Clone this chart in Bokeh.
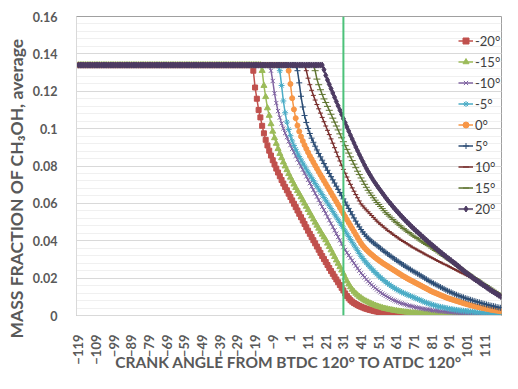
import math
from bokeh.plotting import figure
from bokeh.models import (Range1d, FixedTicker, SingleIntervalTicker, NumeralTickFormatter,
                          Span, Legend, LegendItem, Title)
from bokeh.embed import file_html
from bokeh.resources import INLINE

# ---------------- data ----------------
angles = list(range(-119, 121))          # crank angle categories, -119 .. 120
plateau = 0.134                          # average CH3OH mass fraction before injection effect
series_labels = ["-20°", "-15°", "-10°", "-5°", "0°", "5°", "10°", "15°", "20°"]
series_starts = [-20, -15, -10, -5, 0, 5, 10, 15, 20]   # first angle of decay

decay_m20 = [  # -20 .. 120
    0.131, 0.122, 0.116, 0.110, 0.106, 0.1015, 0.0975, 0.0940, 0.0910, 0.0882,
    0.0856, 0.0831, 0.0808, 0.0786, 0.0765, 0.0745, 0.0725, 0.0706, 0.0688, 0.0670,
    0.0652, 0.0634, 0.0616, 0.0598, 0.0580, 0.0562, 0.0544, 0.0526, 0.0508, 0.0490,
    0.0472, 0.0454, 0.0437, 0.0420, 0.0403, 0.0386, 0.0369, 0.0352, 0.0335, 0.0318,
    0.0302, 0.0286, 0.0270, 0.0254, 0.0238, 0.0223, 0.0208, 0.0193, 0.0178, 0.0163,
    0.0148, 0.0134, 0.0118, 0.0104, 0.0092, 0.0082, 0.0074, 0.0067, 0.0061, 0.0056,
    0.0051, 0.0047, 0.0043, 0.0039, 0.0036, 0.0033, 0.0030, 0.0028, 0.0025, 0.0023,
    0.0021, 0.0019, 0.0017, 0.0016, 0.0015, 0.0013, 0.0012, 0.0011, 0.0010, 0.0010,
    0.0009, 0.0008, 0.0008, 0.0007, 0.0007, 0.0006, 0.0006, 0.0005, 0.0005, 0.0005,
    0.0004, 0.0004, 0.0004, 0.0003, 0.0003, 0.0003, 0.0003, 0.0003, 0.0002, 0.0002,
    0.0002, 0.0002, 0.0002, 0.0002, 0.0002, 0.0001, 0.0001, 0.0001, 0.0001, 0.0001,
    0.0001, 0.0001, 0.0001, 0.0001, 0.0001, 0.0001, 0.0001, 0.0001, 0.0001, 0.0001,
    0.0001, 0.0001, 0.0001, 0.0001, 0.0001, 0.0, 0.0, 0.0, 0.0, 0.0,
    0.0, 0.0, 0.0, 0.0, 0.0, 0.0, 0.0, 0.0, 0.0, 0.0,
    0.0,
]
decay_m15 = [  # -15 .. 120
    0.131, 0.123, 0.117, 0.111, 0.107, 0.1025, 0.0985, 0.0950, 0.0920, 0.0892,
    0.0866, 0.0843, 0.0820, 0.0799, 0.0779, 0.0758, 0.0739, 0.0720, 0.0702, 0.0684,
    0.0667, 0.0651, 0.0634, 0.0617, 0.0600, 0.0583, 0.0566, 0.0549, 0.0532, 0.0515,
    0.0498, 0.0482, 0.0466, 0.0450, 0.0434, 0.0419, 0.0404, 0.0386, 0.0368, 0.0350,
    0.0332, 0.0314, 0.0296, 0.0278, 0.0260, 0.0242, 0.0224, 0.0203, 0.0184, 0.0167,
    0.0152, 0.0139, 0.0128, 0.0118, 0.0109, 0.0101, 0.0094, 0.0087, 0.0081, 0.0076,
    0.0071, 0.0066, 0.0062, 0.0058, 0.0054, 0.0050, 0.0047, 0.0044, 0.0041, 0.0038,
    0.0036, 0.0034, 0.0032, 0.0030, 0.0028, 0.0026, 0.0025, 0.0023, 0.0022, 0.0021,
    0.0019, 0.0018, 0.0017, 0.0016, 0.0015, 0.0014, 0.0013, 0.0013, 0.0012, 0.0011,
    0.0011, 0.0010, 0.0010, 0.0009, 0.0009, 0.0008, 0.0008, 0.0007, 0.0007, 0.0007,
    0.0006, 0.0006, 0.0006, 0.0005, 0.0005, 0.0005, 0.0005, 0.0004, 0.0004, 0.0004,
    0.0004, 0.0004, 0.0003, 0.0003, 0.0003, 0.0003, 0.0003, 0.0003, 0.0003, 0.0002,
    0.0002, 0.0002, 0.0002, 0.0002, 0.0002, 0.0002, 0.0002, 0.0002, 0.0002, 0.0002,
    0.0002, 0.0002, 0.0002, 0.0002, 0.0002, 0.0002,
]
decay_m10 = [  # -10 .. 120
    0.131, 0.1255, 0.1189, 0.1137, 0.1094, 0.1059, 0.1028, 0.1001, 0.0976, 0.0954,
    0.0932, 0.0912, 0.0892, 0.0873, 0.0854, 0.0835, 0.0816, 0.0798, 0.0780, 0.0762,
    0.0744, 0.0726, 0.0708, 0.0690, 0.0672, 0.0654, 0.0636, 0.0618, 0.0600, 0.0582,
    0.0564, 0.0546, 0.0528, 0.0510, 0.0492, 0.0474, 0.0456, 0.0438, 0.0420, 0.0402,
    0.0384, 0.0366, 0.0351, 0.0336, 0.0322, 0.0308, 0.0294, 0.0280, 0.0266, 0.0253,
    0.0240, 0.0227, 0.0215, 0.0204, 0.0193, 0.0183, 0.0173, 0.0164, 0.0155, 0.0147,
    0.0139, 0.0131, 0.0124, 0.0117, 0.0111, 0.0105, 0.0099, 0.0094, 0.0089, 0.0084,
    0.0080, 0.0076, 0.0072, 0.0068, 0.0065, 0.0062, 0.0059, 0.0056, 0.0053, 0.0051,
    0.0049, 0.0046, 0.0044, 0.0042, 0.0040, 0.0038, 0.0036, 0.0035, 0.0033, 0.0032,
    0.0030, 0.0029, 0.0027, 0.0026, 0.0025, 0.0024, 0.0023, 0.0022, 0.0021, 0.0020,
    0.0019, 0.0018, 0.0017, 0.0017, 0.0016, 0.0015, 0.0014, 0.0014, 0.0013, 0.0012,
    0.0012, 0.0011, 0.0011, 0.0010, 0.0010, 0.0009, 0.0009, 0.0008, 0.0008, 0.0008,
    0.0007, 0.0007, 0.0007, 0.0006, 0.0006, 0.0006, 0.0005, 0.0005, 0.0005, 0.0005,
    0.0004,
]
decay_m5 = [  # -5 .. 120
    0.131, 0.1231, 0.1148, 0.1085, 0.1035, 0.0995, 0.0962, 0.0934, 0.0910, 0.0889,
    0.0869, 0.0851, 0.0833, 0.0816, 0.0800, 0.0783, 0.0767, 0.0752, 0.0737, 0.0722,
    0.0707, 0.0692, 0.0677, 0.0662, 0.0647, 0.0632, 0.0617, 0.0602, 0.0587, 0.0572,
    0.0557, 0.0542, 0.0527, 0.0512, 0.0497, 0.0482, 0.0467, 0.0452, 0.0437, 0.0422,
    0.0407, 0.0392, 0.0377, 0.0362, 0.0347, 0.0332, 0.0317, 0.0305, 0.0293, 0.0282,
    0.0271, 0.0260, 0.0250, 0.0240, 0.0230, 0.0221, 0.0212, 0.0203, 0.0195, 0.0187,
    0.0179, 0.0172, 0.0165, 0.0158, 0.0152, 0.0146, 0.0140, 0.0135, 0.0130, 0.0125,
    0.0120, 0.0116, 0.0112, 0.0108, 0.0104, 0.0100, 0.0096, 0.0092, 0.0088, 0.0084,
    0.0080, 0.0076, 0.0072, 0.0068, 0.0065, 0.0062, 0.0059, 0.0056, 0.0053, 0.0050,
    0.0048, 0.0046, 0.0044, 0.0042, 0.0040, 0.0038, 0.0036, 0.0034, 0.0033, 0.0031,
    0.0030, 0.0028, 0.0027, 0.0026, 0.0025, 0.0024, 0.0023, 0.0022, 0.0021, 0.0020,
    0.0019, 0.0018, 0.0017, 0.0016, 0.0016, 0.0015, 0.0014, 0.0013, 0.0013, 0.0012,
    0.0011, 0.0011, 0.0010, 0.0009, 0.0009, 0.0008,
]
decay_0 = [  # 0 .. 120
    0.131, 0.1239, 0.1163, 0.1103, 0.1056, 0.1017, 0.0985, 0.0958, 0.0934, 0.0912,
    0.0892, 0.0873, 0.0854, 0.0837, 0.0820, 0.0803, 0.0786, 0.0769, 0.0753, 0.0737,
    0.0721, 0.0705, 0.0689, 0.0673, 0.0657, 0.0641, 0.0625, 0.0609, 0.0593, 0.0577,
    0.0561, 0.0545, 0.0529, 0.0513, 0.0497, 0.0481, 0.0465, 0.0449, 0.0433, 0.0417,
    0.0401, 0.0386, 0.0373, 0.0362, 0.0352, 0.0343, 0.0334, 0.0326, 0.0318, 0.0310,
    0.0303, 0.0296, 0.0289, 0.0282, 0.0276, 0.0270, 0.0264, 0.0258, 0.0252, 0.0246,
    0.0240, 0.0234, 0.0228, 0.0222, 0.0216, 0.0210, 0.0205, 0.0199, 0.0194, 0.0189,
    0.0184, 0.0179, 0.0174, 0.0169, 0.0164, 0.0159, 0.0154, 0.0149, 0.0144, 0.0139,
    0.0134, 0.0129, 0.0125, 0.0121, 0.0117, 0.0113, 0.0109, 0.0105, 0.0101, 0.0097,
    0.0093, 0.0090, 0.0087, 0.0084, 0.0081, 0.0078, 0.0075, 0.0072, 0.0069, 0.0066,
    0.0063, 0.0060, 0.0058, 0.0055, 0.0053, 0.0050, 0.0048, 0.0046, 0.0044, 0.0042,
    0.0040, 0.0038, 0.0036, 0.0034, 0.0032, 0.0030, 0.0029, 0.0027, 0.0026, 0.0024,
    0.0023,
]
decay_p5 = [  # 5 .. 120
    0.131, 0.1245, 0.1173, 0.1116, 0.1070, 0.1033, 0.1001, 0.0974, 0.0949, 0.0927,
    0.0906, 0.0886, 0.0867, 0.0849, 0.0831, 0.0813, 0.0795, 0.0777, 0.0760, 0.0743,
    0.0726, 0.0709, 0.0692, 0.0675, 0.0658, 0.0641, 0.0624, 0.0607, 0.0590, 0.0573,
    0.0556, 0.0539, 0.0522, 0.0505, 0.0489, 0.0474, 0.0460, 0.0447, 0.0435, 0.0424,
    0.0414, 0.0405, 0.0397, 0.0389, 0.0382, 0.0375, 0.0367, 0.0359, 0.0352, 0.0344,
    0.0337, 0.0330, 0.0323, 0.0316, 0.0309, 0.0302, 0.0296, 0.0289, 0.0283, 0.0276,
    0.0270, 0.0264, 0.0258, 0.0252, 0.0246, 0.0240, 0.0234, 0.0229, 0.0223, 0.0218,
    0.0212, 0.0206, 0.0200, 0.0194, 0.0188, 0.0182, 0.0177, 0.0172, 0.0167, 0.0162,
    0.0157, 0.0152, 0.0147, 0.0142, 0.0137, 0.0132, 0.0128, 0.0124, 0.0119, 0.0115,
    0.0111, 0.0107, 0.0104, 0.0100, 0.0097, 0.0093, 0.0090, 0.0087, 0.0084, 0.0081,
    0.0078, 0.0075, 0.0072, 0.0070, 0.0067, 0.0064, 0.0062, 0.0059, 0.0057, 0.0054,
    0.0052, 0.0050, 0.0048, 0.0045, 0.0043, 0.0041,
]
decay_p10 = [  # 10 .. 120
    0.131, 0.127, 0.1235, 0.1205, 0.1178, 0.1153, 0.1129, 0.1106, 0.1083, 0.1060,
    0.1037, 0.1014, 0.0991, 0.0968, 0.0945, 0.0922, 0.0898, 0.0874, 0.0850, 0.0827,
    0.0804, 0.0782, 0.0761, 0.0741, 0.0721, 0.0702, 0.0683, 0.0665, 0.0647, 0.0630,
    0.0613, 0.0597, 0.0586, 0.0575, 0.0565, 0.0555, 0.0545, 0.0535, 0.0525, 0.0515,
    0.0505, 0.0496, 0.0488, 0.0480, 0.0472, 0.0464, 0.0456, 0.0449, 0.0442, 0.0435,
    0.0428, 0.0421, 0.0415, 0.0408, 0.0402, 0.0396, 0.0390, 0.0384, 0.0378, 0.0372,
    0.0366, 0.0361, 0.0356, 0.0350, 0.0345, 0.0340, 0.0335, 0.0329, 0.0324, 0.0319,
    0.0314, 0.0309, 0.0304, 0.0299, 0.0294, 0.0289, 0.0285, 0.0280, 0.0275, 0.0271,
    0.0266, 0.0261, 0.0256, 0.0251, 0.0247, 0.0242, 0.0237, 0.0232, 0.0227, 0.0223,
    0.0218, 0.0213, 0.0208, 0.0203, 0.0197, 0.0192, 0.0187, 0.0181, 0.0176, 0.0170,
    0.0165, 0.0159, 0.0153, 0.0148, 0.0142, 0.0136, 0.0131, 0.0125, 0.0119, 0.0114,
    0.0108,
]
decay_p15 = [  # 15 .. 120
    0.131, 0.1265, 0.1235, 0.1208, 0.1183, 0.1159, 0.1140, 0.1119, 0.1098, 0.1077,
    0.1056, 0.1035, 0.1014, 0.0993, 0.0972, 0.0951, 0.0930, 0.0909, 0.0889, 0.0869,
    0.0849, 0.0829, 0.0810, 0.0791, 0.0772, 0.0754, 0.0736, 0.0719, 0.0702, 0.0686,
    0.0670, 0.0656, 0.0643, 0.0630, 0.0617, 0.0605, 0.0594, 0.0583, 0.0572, 0.0561,
    0.0550, 0.0541, 0.0532, 0.0523, 0.0514, 0.0505, 0.0497, 0.0489, 0.0481, 0.0473,
    0.0465, 0.0458, 0.0451, 0.0444, 0.0437, 0.0430, 0.0424, 0.0417, 0.0411, 0.0404,
    0.0398, 0.0392, 0.0386, 0.0380, 0.0374, 0.0368, 0.0361, 0.0355, 0.0348, 0.0342,
    0.0335, 0.0329, 0.0322, 0.0316, 0.0309, 0.0303, 0.0296, 0.0290, 0.0283, 0.0277,
    0.0270, 0.0263, 0.0256, 0.0249, 0.0242, 0.0235, 0.0229, 0.0222, 0.0216, 0.0209,
    0.0203, 0.0197, 0.0191, 0.0184, 0.0178, 0.0172, 0.0166, 0.0160, 0.0153, 0.0147,
    0.0141, 0.0135, 0.0129, 0.0122, 0.0116, 0.0110,
]
decay_p20 = [  # 20 .. 120
    0.1315, 0.1285, 0.1260, 0.1237, 0.1214, 0.1191, 0.1168, 0.1145, 0.1122, 0.1099,
    0.1076, 0.1053, 0.1031, 0.1009, 0.0987, 0.0965, 0.0944, 0.0923, 0.0902, 0.0882,
    0.0862, 0.0843, 0.0824, 0.0805, 0.0787, 0.0770, 0.0754, 0.0738, 0.0723, 0.0709,
    0.0695, 0.0682, 0.0669, 0.0656, 0.0643, 0.0630, 0.0618, 0.0606, 0.0595, 0.0583,
    0.0572, 0.0561, 0.0551, 0.0540, 0.0530, 0.0520, 0.0510, 0.0500, 0.0491, 0.0481,
    0.0472, 0.0463, 0.0454, 0.0446, 0.0437, 0.0428, 0.0420, 0.0411, 0.0403, 0.0394,
    0.0386, 0.0378, 0.0370, 0.0362, 0.0354, 0.0346, 0.0338, 0.0331, 0.0323, 0.0316,
    0.0308, 0.0301, 0.0294, 0.0286, 0.0279, 0.0272, 0.0264, 0.0256, 0.0248, 0.0240,
    0.0232, 0.0225, 0.0218, 0.0211, 0.0204, 0.0197, 0.0190, 0.0184, 0.0177, 0.0171,
    0.0164, 0.0158, 0.0151, 0.0145, 0.0138, 0.0132, 0.0126, 0.0120, 0.0114, 0.0108,
    0.0102,
]
series_decays = [decay_m20, decay_m15, decay_m10, decay_m5, decay_0,
                 decay_p5, decay_p10, decay_p15, decay_p20]

reference_angle = 31                      # green vertical marker
x_tick_values = list(range(-119, 112, 10))
y_max = 0.16
x_title = "CRANK ANGLE FROM BTDC 120° TO ATDC 120°"
y_title = "MASS FRACTION OF CH₃OH, average"

# ---------------- styling ----------------
colors = ["#C0504D", "#9BBB59", "#8064A2", "#4BACC6", "#F79646",
          "#2C4D75", "#772C2A", "#5F7530", "#4D3B62"]
markers = ["square", "triangle", "x", "asterisk", "circle", "cross", "dash", "dash", "diamond"]
msizes = [5, 6, 6, 6, 5, 6, 5, 7, 6]
FONT = "Lato"
GREY = "#595959"

p = figure(width=502, height=373, output_backend="svg", toolbar_location=None,
           x_range=Range1d(-120.1, 120.5), y_range=Range1d(0, y_max),
           min_border_left=71, min_border_right=1, min_border_top=16, min_border_bottom=57)
p.background_fill_color = "white"
p.border_fill_color = "white"
p.outline_line_color = "#A0A0A0"
p.outline_line_width = 1

p.xgrid.visible = False
p.ygrid.grid_line_color = "#D9D9D9"
p.ygrid.minor_grid_line_color = "#F0F0F0"

p.yaxis.ticker = SingleIntervalTicker(interval=0.02, num_minor_ticks=5)
p.yaxis.formatter = NumeralTickFormatter(format="0.[00]")
p.xaxis.ticker = FixedTicker(ticks=x_tick_values)
p.xaxis.major_label_orientation = math.pi / 2

for ax in (p.xaxis, p.yaxis):
    ax.axis_line_color = "#D9D9D9"
    ax.major_tick_line_color = None
    ax.minor_tick_line_color = None
    ax.major_label_text_font = FONT
    ax.major_label_text_font_style = "bold"
    ax.major_label_text_color = GREY
p.yaxis.major_label_text_font_size = "12.5px"
p.xaxis.major_label_text_font_size = "13px"
p.yaxis.major_label_standoff = 13
p.xaxis.major_label_standoff = 13

p.xaxis.axis_label = x_title
p.xaxis.axis_label_text_font = FONT
p.xaxis.axis_label_text_font_size = "15.5px"
p.xaxis.axis_label_text_font_style = "bold"
p.xaxis.axis_label_text_color = GREY
p.xaxis.axis_label_standoff = -15

items = []
for lab, start, dec, col, mk, ms in zip(series_labels, series_starts, series_decays,
                                        colors, markers, msizes):
    yvals = [plateau] * (start - angles[0]) + dec
    r1 = p.line(angles, yvals, line_color=col, line_width=1.5)
    r2 = p.scatter(angles, yvals, marker=mk, size=ms, line_color=col, fill_color=col,
                   line_width=1)
    items.append(LegendItem(label=lab, renderers=[r1, r2]))

p.add_layout(Span(location=reference_angle, dimension="height",
                  line_color="#4CC27A", line_width=2))

legend = Legend(items=items, location=(382, 97), padding=0, margin=0, spacing=2,
                glyph_width=15, glyph_height=19, label_height=19, label_standoff=2,
                label_text_font=FONT, label_text_font_size="13px",
                label_text_color="#404040",
                background_fill_alpha=0, border_line_alpha=0)
p.add_layout(legend)

p.add_layout(Title(text=y_title, align="left", offset=-23, standoff=6,
                   text_font=FONT, text_font_size="17.5px", text_font_style="bold",
                   text_color=GREY), "left")

open("out.html", "w").write(file_html(p, INLINE))
